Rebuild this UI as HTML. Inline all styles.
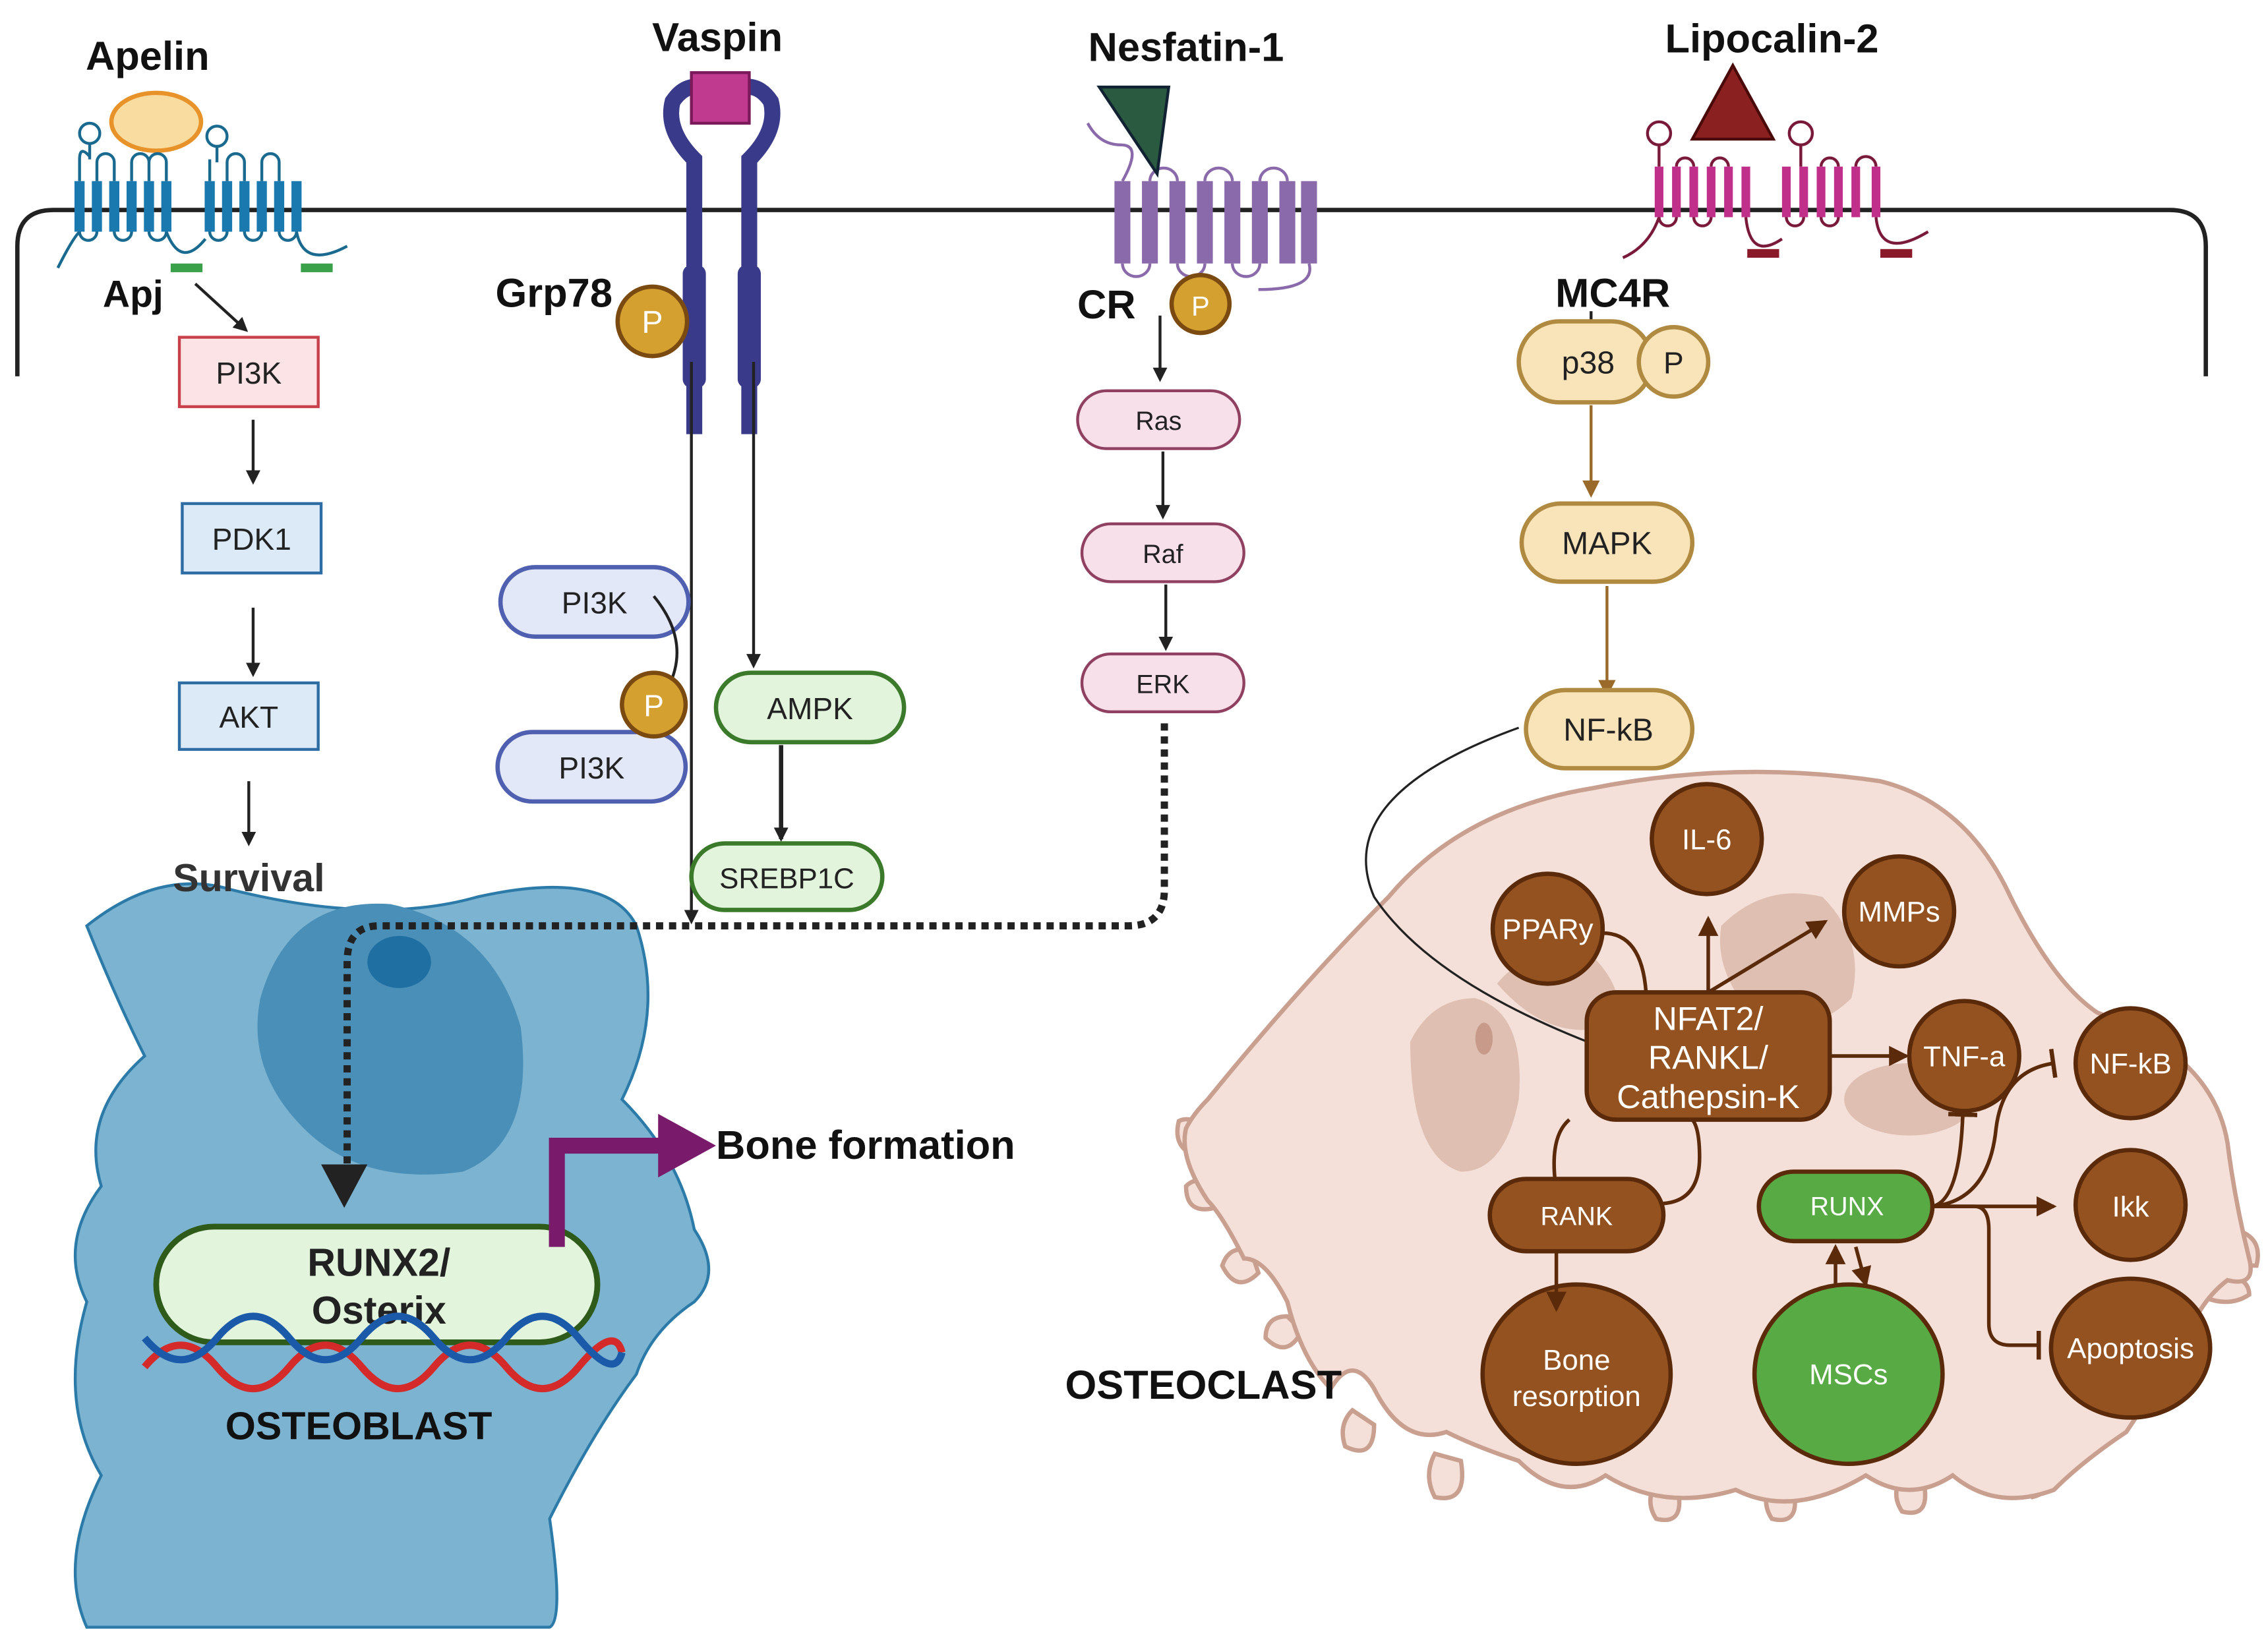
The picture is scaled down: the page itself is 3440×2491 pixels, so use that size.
<!DOCTYPE html>
<html><head><meta charset="utf-8"><style>
html,body{margin:0;padding:0;background:#fff}
svg{display:block}
text{font-family:"Liberation Sans",sans-serif}
</style></head><body>
<svg width="3440" height="2491" viewBox="0 0 1568 1135" xmlns="http://www.w3.org/2000/svg">
<defs>
<marker id="ak" markerWidth="10" markerHeight="10" refX="8" refY="5" orient="auto" markerUnits="userSpaceOnUse"><path d="M0,0 L10,5 L0,10z" fill="#222"/></marker>
<marker id="ab" markerWidth="14" markerHeight="14" refX="12" refY="7" orient="auto" markerUnits="userSpaceOnUse"><path d="M0,0 L14,7 L0,14z" fill="#5a2a0a"/></marker>
<marker id="ag" markerWidth="12" markerHeight="12" refX="10" refY="6" orient="auto" markerUnits="userSpaceOnUse"><path d="M0,0 L12,6 L0,12z" fill="#9a6a2a"/></marker>
<marker id="tb" markerWidth="4" markerHeight="20" refX="2" refY="10" orient="auto" markerUnits="userSpaceOnUse"><rect x="0" y="0" width="3" height="20" fill="#5a2a0a"/></marker>
</defs>

<!-- membrane -->
<path d="M12,260 V170 Q12,145 37,145 H1500 Q1525,145 1525,170 V260" fill="none" stroke="#222" stroke-width="3"/>

<!-- osteoblast -->
<path d="M60,640 Q110,600 160,615 Q260,640 330,620 Q420,600 440,640 Q460,700 430,760 Q470,800 480,850 Q500,880 480,900 Q450,920 440,950 Q410,990 380,1050 Q390,1120 380,1125 H60 Q40,1080 70,1020 Q40,970 60,900 Q40,860 70,820 Q55,770 100,730 Q80,690 60,640z" fill="#7bb3d0" stroke="#2c7aa8" stroke-width="2"/>
<path d="M180,690 Q200,620 270,625 Q340,640 360,710 Q370,790 320,810 Q250,820 210,780 Q170,740 180,690z" fill="#4a8fb8"/>
<ellipse cx="276" cy="665" rx="22" ry="18" fill="#1f6fa3"/>
<rect x="108" y="848" width="305" height="80" rx="40" fill="#e2f4dc" stroke="#2e5a1a" stroke-width="4"/>
<text x="262" y="882" font-size="27" font-weight="bold" text-anchor="middle" fill="#222">RUNX2/</text>
<text x="262" y="915" font-size="27" font-weight="bold" text-anchor="middle" fill="#222">Osterix</text>
<path d="M100,945 q25,-30 50,0 t50,0 t50,0 t50,0 t50,0 t50,0 t30,-10" fill="none" stroke="#d42a2a" stroke-width="5"/>
<path d="M100,925 q25,30 50,0 t50,0 t50,0 t50,0 t50,0 t50,0 t30,10" fill="none" stroke="#1a5aa8" stroke-width="5"/>
<text x="248" y="995" font-size="27" font-weight="bold" text-anchor="middle" fill="#111">OSTEOBLAST</text>
<path d="M385,862 V792 H460" fill="none" stroke="#7a1a6a" stroke-width="11"/>
<path d="M455,770 L495,792 L455,814z" fill="#7a1a6a"/>
<text x="495" y="801" font-size="28" font-weight="bold" fill="#111">Bone formation</text>

<!-- dotted path -->
<path d="M805,500 V615 Q805,640 780,640 H262 Q240,640 240,665 V805" fill="none" stroke="#222" stroke-width="5" stroke-dasharray="5,4"/>
<path d="M222,805 L238,835 L254,805z" fill="#222"/>

<!-- Apelin -->
<text x="102" y="48" font-size="28" font-weight="bold" text-anchor="middle" fill="#111">Apelin</text>
<ellipse cx="108" cy="84" rx="31" ry="20" fill="#f8dca0" stroke="#e8922a" stroke-width="3"/>
<g stroke="#1a6a90" stroke-width="2" fill="none">
<path d="M55,125 V110 Q55,100 62,108 M67,125 V112 a6,6 0 0 1 12,0 V125 M91,125 V112 a6,6 0 0 1 12,0 V125 M103,125 V112 a6,6 0 0 1 12,0 V125"/>
<path d="M55,160 a6,6 0 0 0 12,0 M79,160 a6,6 0 0 0 12,0 M103,160 a6,6 0 0 0 12,0"/>
<path d="M145,125 V110 M157,125 V112 a6,6 0 0 1 12,0 V125 M181,125 V112 a6,6 0 0 1 12,0 V125"/>
<path d="M145,160 a6,6 0 0 0 12,0 M169,160 a6,6 0 0 0 12,0 M193,160 a6,6 0 0 0 12,0"/>
<path d="M62,110 V98 M150,112 V100"/>
<circle cx="62" cy="92" r="7"/><circle cx="150" cy="94" r="7"/>
<path d="M40,185 Q50,165 55,160"/><path d="M115,160 Q125,186 142,165"/><path d="M205,160 Q210,186 240,170"/>
</g>
<g stroke="#1a7ab0" stroke-width="7" fill="none">
<path d="M55,125V160M67,125V160M79,125V160M91,125V160M103,125V160M115,125V160"/>
<path d="M145,125V160M157,125V160M169,125V160M181,125V160M193,125V160M205,125V160"/>
</g>
<rect x="118" y="182" width="22" height="6" fill="#3aa04a"/><rect x="208" y="182" width="22" height="6" fill="#3aa04a"/>
<text x="92" y="212" font-size="26" font-weight="bold" text-anchor="middle" fill="#111">Apj</text>
<line x1="135" y1="196" x2="170" y2="228" stroke="#222" stroke-width="2" marker-end="url(#ak)"/>
<rect x="124" y="233" width="96" height="48" fill="#fce4e6" stroke="#c8404a" stroke-width="2"/>
<text x="172" y="265" font-size="21" text-anchor="middle" fill="#222">PI3K</text>
<line x1="175" y1="290" x2="175" y2="333" stroke="#222" stroke-width="2" marker-end="url(#ak)"/>
<rect x="126" y="348" width="96" height="48" fill="#dceaf8" stroke="#2e6da4" stroke-width="2"/>
<text x="174" y="380" font-size="21" text-anchor="middle" fill="#222">PDK1</text>
<line x1="175" y1="420" x2="175" y2="466" stroke="#222" stroke-width="2" marker-end="url(#ak)"/>
<rect x="124" y="472" width="96" height="46" fill="#dceaf8" stroke="#2e6da4" stroke-width="2"/>
<text x="172" y="503" font-size="21" text-anchor="middle" fill="#222">AKT</text>
<line x1="172" y1="540" x2="172" y2="583" stroke="#222" stroke-width="2" marker-end="url(#ak)"/>
<text x="172" y="616" font-size="27" font-weight="bold" text-anchor="middle" fill="#333">Survival</text>

<!-- Vaspin -->
<text x="496" y="35" font-size="28" font-weight="bold" text-anchor="middle" fill="#111">Vaspin</text>
<path d="M480,300 V110 Q460,90 465,70 Q475,55 490,62" fill="none" stroke="#3a3a8a" stroke-width="11"/>
<path d="M518,300 V110 Q538,90 533,70 Q523,55 508,62" fill="none" stroke="#3a3a8a" stroke-width="11"/>
<rect x="472" y="183" width="16" height="85" rx="6" fill="#3a3a8a"/><rect x="510" y="183" width="16" height="85" rx="6" fill="#3a3a8a"/>
<rect x="478" y="50" width="40" height="35" fill="#c03a90" stroke="#7a1a5a" stroke-width="2"/>
<text x="383" y="212" font-size="28" font-weight="bold" text-anchor="middle" fill="#111">Grp78</text>
<circle cx="451" cy="222" r="24" fill="#d4a030" stroke="#7a4a10" stroke-width="3"/>
<text x="451" y="230" font-size="22" text-anchor="middle" fill="#fff">P</text>
<line x1="478" y1="250" x2="478" y2="637" stroke="#222" stroke-width="2" marker-end="url(#ak)"/>
<line x1="521" y1="250" x2="521" y2="460" stroke="#222" stroke-width="2" marker-end="url(#ak)"/>
<rect x="346" y="392" width="130" height="48" rx="24" fill="#e2e8f8" stroke="#5060b0" stroke-width="3"/>
<text x="411" y="424" font-size="21" text-anchor="middle" fill="#222">PI3K</text>
<rect x="344" y="506" width="130" height="48" rx="24" fill="#e2e8f8" stroke="#5060b0" stroke-width="3"/>
<text x="409" y="538" font-size="21" text-anchor="middle" fill="#222">PI3K</text>
<path d="M452,412 Q475,440 465,468" fill="none" stroke="#222" stroke-width="2"/>
<circle cx="452" cy="487" r="22" fill="#d4a030" stroke="#7a4a10" stroke-width="3"/>
<text x="452" y="495" font-size="21" text-anchor="middle" fill="#fff">P</text>
<rect x="495" y="465" width="130" height="48" rx="24" fill="#e2f4dc" stroke="#3a7a2a" stroke-width="3"/>
<text x="560" y="497" font-size="21" text-anchor="middle" fill="#222">AMPK</text>
<line x1="540" y1="515" x2="540" y2="580" stroke="#222" stroke-width="3" marker-end="url(#ak)"/>
<rect x="478" y="583" width="132" height="46" rx="23" fill="#e2f4dc" stroke="#3a7a2a" stroke-width="3"/>
<text x="544" y="614" font-size="20" text-anchor="middle" fill="#222">SREBP1C</text>

<!-- Nesfatin -->
<text x="820" y="42" font-size="28" font-weight="bold" text-anchor="middle" fill="#111">Nesfatin-1</text>
<g stroke="#8a6aaa" stroke-width="2" fill="none">
<path d="M752,85 Q760,100 775,100 Q790,100 776,125"/>
<path d="M795,125 a9.5,9 0 0 1 19,0 M833,125 a9.5,9 0 0 1 19,0 M871,125 a9.5,9 0 0 1 19,0 M776,182 a9.5,9 0 0 0 19,0 M814,182 a9.5,9 0 0 0 19,0 M852,182 a9.5,9 0 0 0 19,0"/>
<path d="M905,182 Q910,200 870,200"/>
</g>
<g stroke="#8a6aaa" stroke-width="11"><path d="M776,125V182M795,125V182M814,125V182M833,125V182M852,125V182M871,125V182M890,125V182M905,125V182"/></g>
<path d="M760,60 L808,60 L800,120z" fill="#2a5a40" stroke="#123" stroke-width="2"/>
<text x="765" y="220" font-size="28" font-weight="bold" text-anchor="middle" fill="#111">CR</text>
<circle cx="830" cy="210" r="20" fill="#d4a030" stroke="#7a4a10" stroke-width="3"/>
<text x="830" y="218" font-size="19" text-anchor="middle" fill="#fff">P</text>
<line x1="802" y1="218" x2="802" y2="262" stroke="#222" stroke-width="2" marker-end="url(#ak)"/>
<rect x="745" y="270" width="112" height="40" rx="20" fill="#f8e0ea" stroke="#904060" stroke-width="2"/>
<text x="801" y="297" font-size="18" text-anchor="middle" fill="#222">Ras</text>
<line x1="804" y1="312" x2="804" y2="357" stroke="#222" stroke-width="2" marker-end="url(#ak)"/>
<rect x="748" y="362" width="112" height="40" rx="20" fill="#f8e0ea" stroke="#904060" stroke-width="2"/>
<text x="804" y="389" font-size="18" text-anchor="middle" fill="#222">Raf</text>
<line x1="806" y1="404" x2="806" y2="448" stroke="#222" stroke-width="2" marker-end="url(#ak)"/>
<rect x="748" y="452" width="112" height="40" rx="20" fill="#f8e0ea" stroke="#904060" stroke-width="2"/>
<text x="804" y="479" font-size="18" text-anchor="middle" fill="#222">ERK</text>

<!-- Lipocalin -->
<text x="1225" y="36" font-size="28" font-weight="bold" text-anchor="middle" fill="#111">Lipocalin-2</text>
<g stroke="#7a1a3a" stroke-width="2" fill="none">
<path d="M1147,115 V100 M1245,115 V100"/>
<circle cx="1147" cy="92" r="8"/><circle cx="1245" cy="92" r="8"/>
<path d="M1159,115 a6,6 0 0 1 12,0 M1183,115 a6,6 0 0 1 12,0 M1259,115 a6,6 0 0 1 12,0 M1283,115 a6,6 0 0 1 14,0"/>
<path d="M1147,150 a6,6 0 0 0 12,0 M1171,150 a6,6 0 0 0 12,0 M1235,150 a6,6 0 0 0 12,0 M1259,150 a6,6 0 0 0 12,0"/>
<path d="M1207,150 Q1210,180 1232,165 M1297,150 Q1300,180 1333,160 M1147,150 Q1140,170 1122,178"/>
</g>
<g stroke="#c0308a" stroke-width="6"><path d="M1147,115V150M1159,115V150M1171,115V150M1183,115V150M1195,115V150M1207,115V150M1235,115V150M1247,115V150M1259,115V150M1271,115V150M1283,115V150M1297,115V150"/></g>
<rect x="1208" y="172" width="22" height="6" fill="#8a1a2a"/><rect x="1300" y="172" width="22" height="6" fill="#8a1a2a"/>
<path d="M1198,45 L1226,96 L1170,96z" fill="#8a2020" stroke="#4a0a0a" stroke-width="2"/>
<text x="1115" y="212" font-size="28" font-weight="bold" text-anchor="middle" fill="#111">MC4R</text>
<line x1="1100" y1="215" x2="1100" y2="236" stroke="#222" stroke-width="2" marker-end="url(#ak)"/>
<rect x="1050" y="222" width="92" height="56" rx="28" fill="#f8e4b8" stroke="#b08a40" stroke-width="3"/>
<text x="1098" y="258" font-size="22" text-anchor="middle" fill="#222">p38</text>
<circle cx="1157" cy="250" r="24" fill="#f8e4b8" stroke="#b08a40" stroke-width="3"/>
<text x="1157" y="258" font-size="21" text-anchor="middle" fill="#222">P</text>
<line x1="1100" y1="280" x2="1100" y2="342" stroke="#9a6a2a" stroke-width="2" marker-end="url(#ag)"/>
<rect x="1052" y="348" width="118" height="54" rx="27" fill="#f8e4b8" stroke="#b08a40" stroke-width="3"/>
<text x="1111" y="383" font-size="22" text-anchor="middle" fill="#222">MAPK</text>
<line x1="1111" y1="405" x2="1111" y2="480" stroke="#9a6a2a" stroke-width="2" marker-end="url(#ag)"/>
<rect x="1055" y="477" width="115" height="54" rx="27" fill="#f8e4b8" stroke="#b08a40" stroke-width="3"/>
<text x="1112" y="512" font-size="22" text-anchor="middle" fill="#222">NF-kB</text>

<!-- osteoclast -->
<g fill="#f4e0d8" stroke="#c9a090" stroke-width="3">
<path d="M830,800 q-20,-5 -15,-25 q10,-5 25,10z"/>
<path d="M840,835 q-20,5 -20,-15 q10,-10 25,5z"/>
<path d="M870,880 q-15,15 -25,-5 q5,-15 20,-10z"/>
<path d="M900,920 q-10,20 -25,5 q0,-15 15,-15z"/>
<path d="M950,985 q0,25 -20,15 q-5,-15 5,-25z"/>
<path d="M1010,1010 q5,30 -18,25 q-8,-15 0,-30z"/>
<path d="M1160,1030 q5,25 -15,20 q-8,-12 0,-25z"/>
<path d="M1240,1030 q5,25 -15,20 q-8,-12 0,-25z"/>
<path d="M1330,1025 q5,25 -15,20 q-8,-12 0,-25z"/>
<path d="M1410,1010 q15,20 -5,25 q-12,-10 -10,-25z"/>
<path d="M1525,880 q30,0 30,15 q-15,10 -35,0z"/>
<path d="M1545,850 q20,5 15,25 q-15,0 -20,-15z"/>
</g>
<path d="M835,760 Q900,680 960,620 Q1010,560 1100,545 Q1200,525 1300,540 Q1360,555 1390,620 Q1420,680 1450,700 Q1530,730 1540,790 Q1545,830 1555,870 Q1560,890 1540,885 Q1520,900 1510,930 Q1490,960 1470,990 Q1440,1010 1420,1030 Q1380,1045 1350,1020 Q1320,1040 1290,1020 Q1240,1050 1200,1030 Q1150,1045 1110,1020 Q1080,1040 1050,1010 Q1020,1000 1000,990 Q970,1000 950,960 Q935,935 920,960 Q900,940 890,900 Q875,870 860,870 Q845,840 835,830 Q815,800 820,780 Q825,770 835,760z" fill="#f4e0d8" stroke="#c9a090" stroke-width="3"/>
<path d="M975,720 Q990,690 1020,690 Q1055,700 1050,760 Q1040,810 1010,810 Q975,800 975,720z" fill="#dfbfb2"/>
<ellipse cx="1026" cy="718" rx="6" ry="11" fill="#c79a8a"/>
<path d="M1035,680 Q1060,650 1100,660 Q1130,690 1110,710 Q1070,720 1035,680z" fill="#dfbfb2"/>
<path d="M1190,640 Q1220,610 1260,620 Q1290,650 1280,690 Q1250,720 1210,700 Q1185,670 1190,640z" fill="#dfbfb2"/>
<ellipse cx="1320" cy="760" rx="45" ry="25" fill="#dfbfb2"/>
<text x="832" y="967" font-size="28" font-weight="bold" text-anchor="middle" fill="#111">OSTEOCLAST</text>

<path d="M1050,503 Q920,550 950,620 Q990,680 1110,725" fill="none" stroke="#222" stroke-width="1.5" marker-end="url(#ak)"/>

<g fill="#93521f" stroke="#5a2a0a" stroke-width="3">
<circle cx="1180" cy="580" r="38"/><circle cx="1070" cy="642" r="38"/><circle cx="1313" cy="630" r="38"/>
<circle cx="1358" cy="730" r="38"/><circle cx="1473" cy="735" r="38"/><circle cx="1473" cy="833" r="38"/>
<ellipse cx="1473" cy="932" rx="55" ry="48"/><ellipse cx="1090" cy="950" rx="65" ry="62"/>
<rect x="1097" y="686" width="168" height="88" rx="20"/>
<rect x="1030" y="815" width="120" height="50" rx="25"/>
</g>
<ellipse cx="1278" cy="950" rx="65" ry="62" fill="#58aa44" stroke="#5a2a0a" stroke-width="3"/>
<rect x="1216" y="810" width="120" height="48" rx="24" fill="#58aa44" stroke="#5a2a0a" stroke-width="3"/>
<g fill="#fff" font-size="20" text-anchor="middle">
<text x="1180" y="587">IL-6</text><text x="1070" y="649">PPARy</text><text x="1313" y="637">MMPs</text>
<text x="1358" y="737">TNF-a</text><text x="1473" y="742">NF-kB</text><text x="1473" y="841">Ikk</text>
<text x="1473" y="939">Apoptosis</text><text x="1090" y="947">Bone</text><text x="1090" y="972">resorption</text>
<text x="1278" y="957">MSCs</text><text x="1090" y="847" font-size="18">RANK</text><text x="1277" y="840" font-size="18">RUNX</text>
<text x="1181" y="712" font-size="23">NFAT2/</text><text x="1181" y="739" font-size="23">RANKL/</text><text x="1181" y="766" font-size="23">Cathepsin-K</text>
</g>
<g fill="none" stroke="#5a2a0a" stroke-width="2.5">
<path d="M1108,645 Q1135,645 1138,686"/>
<line x1="1181" y1="686" x2="1181" y2="635" marker-end="url(#ab)"/>
<line x1="1181" y1="686" x2="1262" y2="637" marker-end="url(#ab)"/>
<line x1="1265" y1="730" x2="1318" y2="730" marker-end="url(#ab)"/>
<path d="M1085,774 Q1072,785 1075,815"/>
<path d="M1150,832 Q1175,830 1175,800 Q1175,780 1170,774"/>
<line x1="1076" y1="865" x2="1076" y2="905" marker-end="url(#ab)"/>
<path d="M1336,834 Q1355,830 1357,770" marker-end="url(#tb)"/>
<path d="M1336,834 Q1375,830 1380,780 Q1385,740 1420,735" marker-end="url(#tb)"/>
<line x1="1336" y1="834" x2="1420" y2="834" marker-end="url(#ab)"/>
<path d="M1336,834 H1365 Q1375,834 1375,850 V915 Q1375,930 1390,930 H1410" marker-end="url(#tb)"/>
<line x1="1269" y1="888" x2="1269" y2="862" marker-end="url(#ab)"/>
<line x1="1283" y1="862" x2="1290" y2="888" marker-end="url(#ab)"/>
</g>
</svg>
</body></html>
